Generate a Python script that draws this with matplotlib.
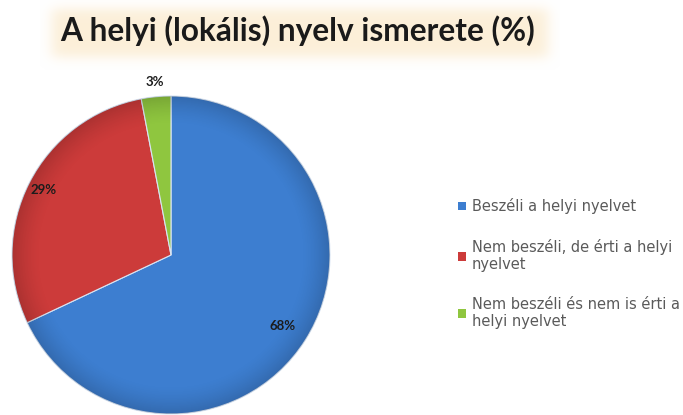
import numpy as np
import matplotlib
matplotlib.use("Agg")
import matplotlib.pyplot as plt
from matplotlib.patches import Patch, Circle

plt.rcParams['font.family'] = ['Lato', 'DejaVu Sans']

title = "A helyi (lokális) nyelv ismerete (%)"
categories = [
    "Beszéli a helyi nyelvet",
    "Nem beszéli, de érti a helyi\nnyelvet",
    "Nem beszéli és nem is érti a\nhelyi nyelvet",
]
values = [68, 29, 3]
colors = ["#3d7ed0", "#cc3b3a", "#8fc63f"]
label_dist = [0.83, 0.90, 1.09]

W, H = 683, 415
fig = plt.figure(figsize=(W / 100, H / 100), dpi=100)
fig.patch.set_facecolor("white")

# soft warm glow behind the title
bg = fig.add_axes([0, 0, 1, 1], zorder=0)
bg.set_axis_off()
bg.set_xlim(0, W)
bg.set_ylim(H, 0)
x0, x1, y0, y1 = 40, 560, 0, 70
yy, xx = np.mgrid[y0:y1, x0:x1] + 0.5
def soft(v, a, b, s):
    return 1 / (1 + np.exp(-(v - a) / s)) / (1 + np.exp((v - b) / s))
alpha = soft(xx, 52, 548, 4) * soft(yy, 9, 57, 3.5)
glow = np.zeros((y1 - y0, x1 - x0, 4))
glow[..., :3] = [0.99, 0.94, 0.85]
glow[..., 3] = alpha
bg.imshow(glow, extent=[x0, x1, y1, y0], aspect="auto", interpolation="bilinear")

fig.text(60 / W, 1 - 41 / H, title, fontsize=22.8, fontweight="bold",
         color="#1a1a1a", va="baseline", ha="left", zorder=3)

# pie
cx, cy, r = 171, 255, 159
ax = fig.add_axes([(cx - r) / W, 1 - (cy + r) / H, 2 * r / W, 2 * r / H], zorder=2)
ax.patch.set_visible(False)
wedges, _ = ax.pie(values, colors=colors, startangle=90, counterclock=False,
                   radius=1, wedgeprops=dict(edgecolor="#d8e4f3", linewidth=0.8))
ax.set_xlim(-1, 1)
ax.set_ylim(-1, 1)
ax.set_aspect("auto")

# slight darkening towards the rim
n = 400
gy, gx = np.mgrid[-1:1:n * 1j, -1:1:n * 1j]
rr = np.hypot(gx, gy)
shade = np.zeros((n, n, 4))
shade[..., 3] = 0.16 * np.clip((rr - 0.82) / 0.18, 0, 1) ** 1.5
im = ax.imshow(shade, extent=[-1, 1, -1, 1], origin="lower", zorder=3,
               interpolation="bilinear")
im.set_clip_path(Circle((0, 0), 1, transform=ax.transData))

for w, v, d in zip(wedges, values, label_dist):
    ang = np.deg2rad((w.theta1 + w.theta2) / 2)
    ax.text(d * np.cos(ang), d * np.sin(ang), f"{v}%", ha="center", va="center",
            fontsize=9.5, fontweight="bold", color="#1c1c1c", clip_on=False, zorder=4)
ax.set_xlim(-1, 1)
ax.set_ylim(-1, 1)
ax.set_aspect("auto")

# legend
handles = [Patch(facecolor=c, edgecolor="none") for c in colors]
fig.legend(handles, categories, loc="upper left", bbox_to_anchor=(445 / W, 1 - 185 / H),
           frameon=False, prop=dict(family="DejaVu Sans", size=10.5),
           labelcolor="#5a5a5a", handlelength=0.55, handleheight=0.55,
           handletextpad=0.4, labelspacing=1.69)

fig.savefig("out.png", dpi=100)
